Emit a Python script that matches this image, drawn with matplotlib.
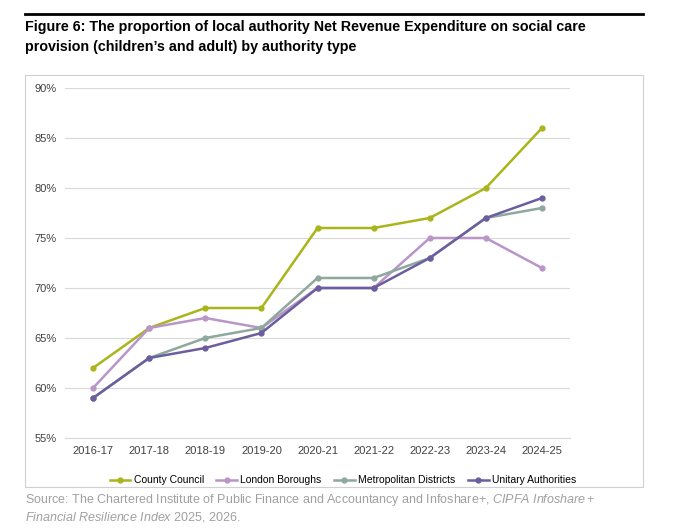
import matplotlib
matplotlib.use("Agg")
import matplotlib.pyplot as plt
from matplotlib.patches import Rectangle
from matplotlib.lines import Line2D

plt.rcParams['font.family'] = ['Liberation Sans','DejaVu Sans']
plt.rcParams['mathtext.fontset'] = 'custom'
plt.rcParams['mathtext.rm'] = 'Liberation Sans'
plt.rcParams['mathtext.it'] = 'Liberation Sans:italic'

years = ["2016-17","2017-18","2018-19","2019-20","2020-21","2021-22","2022-23","2023-24","2024-25"]
county = [62,66,68,68,76,76,77,80,86]
london = [60,66,67,66,70,70,75,75,72]
metro = [59,63,65,66,71,71,73,77,78]
unitary = [59,63,64,65.5,70,70,73,77,79]
names = ["County Council","London Boroughs","Metropolitan Districts","Unitary Authorities"]
colors = ["#A9B51A","#B995C8","#8EA89D","#6B5E9E"]

fig = plt.figure(figsize=(6.8,5.32), dpi=100)
fig.add_artist(Line2D([25/680,643/680],[1-14/532,1-14/532],color="black",lw=2))
fig.text(25/680,1-20/532,"Figure 6: The proportion of local authority Net Revenue Expenditure on social care",
         fontsize=10.3,fontweight="bold",va="top",ha="left")
fig.text(25/680,1-40/532,"provision (children’s and adult) by authority type",
         fontsize=10.3,fontweight="bold",va="top",ha="left")
fig.add_artist(Rectangle((25/680,1-487/532),618/680,412/532,fill=False,ec="#D0D0D0",lw=0.8))

ax = fig.add_axes([65/680,1-438/532,505/680,350/532])
x = range(len(years))
for vals,c,n in zip([county,london,metro,unitary],colors,names):
    ax.plot(x,vals,color=c,lw=1.8,marker="o",ms=3.5,label=n)
ax.set_ylim(55,90)
ax.set_xlim(-0.5,len(years)-0.5)
ax.set_yticks(range(55,91,5))
ax.set_yticklabels([f"{v}%" for v in range(55,91,5)])
ax.set_xticks(list(x))
ax.set_xticklabels(years)
ax.grid(axis="y",color="#D9D9D9",lw=0.8)
ax.set_axisbelow(True)
for s in ["top","right","left"]:
    ax.spines[s].set_visible(False)
ax.spines["bottom"].set_color("#D9D9D9")
ax.tick_params(length=0,labelsize=8,colors="#404040",pad=6)
ax.legend(loc="upper center",bbox_to_anchor=(0.55,-0.08),ncol=4,frameon=False,fontsize=7.5,
          handlelength=2,columnspacing=1.2,handletextpad=0.3)
fig.text(25/680,1-492/532,"Source: The Chartered Institute of Public Finance and Accountancy and Infoshare+, $\\it{CIPFA\\ Infoshare+}$",
         fontsize=9,color="#A0A0A0",va="top",ha="left")
fig.text(25/680,1-510/532,"$\\it{Financial\\ Resilience\\ Index\\ 2025}$, 2026.",
         fontsize=9,color="#A0A0A0",va="top",ha="left")
fig.savefig("out.png",dpi=100)
